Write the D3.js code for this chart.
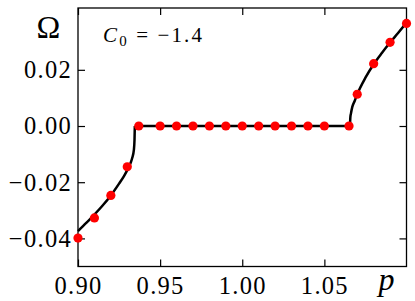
<!DOCTYPE html>
<html lang="en">
<head>
<meta charset="utf-8">
<title>Omega vs p</title>
<style>
body { margin: 0; background: #fff; }
.tick line { stroke: #000; stroke-width: 1.2; }
</style>
</head>
<body>
<div id="chart"></div>
<script src="https://cdn.jsdelivr.net/npm/d3@7"></script>
<script>
// curve
var leftP = [0.900, 0.905, 0.910, 0.915, 0.920, 0.925, 0.928, 0.930, 0.932, 0.933, 0.934, 0.9344, 0.9346];
var leftW = [-0.0374, -0.0345, -0.0315, -0.0283, -0.0247, -0.0205, -0.0178, -0.0157, -0.0132, -0.0114, -0.0086, -0.0050, 0];
var flatP = [0.9346, 1.0656];
var flatW = [0, 0];
var rightP = [1.0656, 1.0658, 1.0662, 1.0670, 1.0685, 1.070, 1.075, 1.080, 1.085, 1.090, 1.095, 1.100];
var rightW = [0, 0.0030, 0.0045, 0.0068, 0.0090, 0.0113, 0.0172, 0.0220, 0.0260, 0.0297, 0.0332, 0.0368];

// red markers
var dotP = [0.90, 0.91, 0.92, 0.93, 0.937, 0.95, 0.96, 0.97, 0.98, 0.99, 1.00, 1.01, 1.02, 1.03, 1.04, 1.05, 1.065, 1.07, 1.08, 1.09, 1.10];
var dotW = [-0.0399, -0.0327, -0.0247, -0.0145, 0, 0, 0, 0, 0, 0, 0, 0, 0, 0, 0, 0, 0, 0.0113, 0.0222, 0.0298, 0.0365];

var xTicks = [0.90, 0.95, 1.00, 1.05];
var yTicks = [0.02, 0.00, -0.02, -0.04];

var W = 415, H = 301;
var mL = 78, mR = 406.5, mT = 8, mB = 266.5;
var serif = '"Liberation Serif", serif';

var x = d3.scaleLinear().domain([0.90, 1.10]).range([mL, mR]);
var y = d3.scaleLinear().domain([-0.05, 0.042]).range([mB, mT]);

var svg = d3.select('#chart').append('svg')
  .attr('width', W)
  .attr('height', H);

var fmt = d3.format('.2f');

svg.append('g')
  .attr('transform', 'translate(0,' + mB + ')')
  .call(d3.axisBottom(x).tickValues(xTicks).tickFormat(fmt).tickSizeInner(-7).tickSizeOuter(0).tickPadding(10));
svg.append('g')
  .attr('transform', 'translate(0,' + mT + ')')
  .call(d3.axisTop(x).tickValues(xTicks).tickFormat('').tickSizeInner(-7).tickSizeOuter(0));
svg.append('g')
  .attr('transform', 'translate(' + mL + ',0)')
  .call(d3.axisLeft(y).tickValues(yTicks).tickFormat(fmt).tickSizeInner(-7).tickSizeOuter(0).tickPadding(6));
svg.append('g')
  .attr('transform', 'translate(' + mR + ',0)')
  .call(d3.axisRight(y).tickValues(yTicks).tickFormat('').tickSizeInner(-7).tickSizeOuter(0));
svg.selectAll('.domain').remove();
svg.selectAll('.tick text')
  .style('font-family', serif)
  .style('font-size', '24.5px')
  .style('letter-spacing', '1.3px')
  .style('fill', '#000');

svg.append('rect')
  .attr('x', mL).attr('y', mT)
  .attr('width', mR - mL).attr('height', mB - mT)
  .attr('fill', 'none').attr('stroke', '#000').attr('stroke-width', 1.3);

var line = d3.line()
  .x(function(d) { return x(d[0]); })
  .y(function(d) { return y(d[1]); })
  .curve(d3.curveMonotoneX);

[[leftP, leftW], [flatP, flatW], [rightP, rightW]].forEach(function(s) {
  svg.append('path')
    .datum(d3.zip(s[0], s[1]))
    .attr('d', line)
    .attr('fill', 'none')
    .attr('stroke', '#000')
    .attr('stroke-width', 2.5);
});

svg.selectAll('circle.dot')
  .data(d3.zip(dotP, dotW))
  .enter().append('circle')
  .attr('class', 'dot')
  .attr('cx', function(d) { return x(d[0]); })
  .attr('cy', function(d) { return y(d[1]); })
  .attr('r', 4.6)
  .attr('fill', '#ff0000');

// labels
svg.append('text')
  .attr('x', 48.5).attr('y', 38)
  .attr('text-anchor', 'middle')
  .style('font-family', serif)
  .style('font-size', '32px')
  .text('Ω');

svg.append('text')
  .attr('x', 386.5).attr('y', 290)
  .attr('text-anchor', 'middle')
  .style('font-family', serif)
  .style('font-size', '32px')
  .style('font-style', 'italic')
  .text('p');

var c0 = svg.append('text')
  .attr('x', 103).attr('y', 42)
  .style('font-family', serif)
  .style('font-size', '21px')
  .attr('textLength', 99)
  .attr('lengthAdjust', 'spacing');
c0.append('tspan').style('font-style', 'italic').text('C');
c0.append('tspan').attr('dy', 4).style('font-size', '15px').text('0');
c0.append('tspan').attr('dy', -4).text(' = −1.4');
</script>
</body>
</html>
